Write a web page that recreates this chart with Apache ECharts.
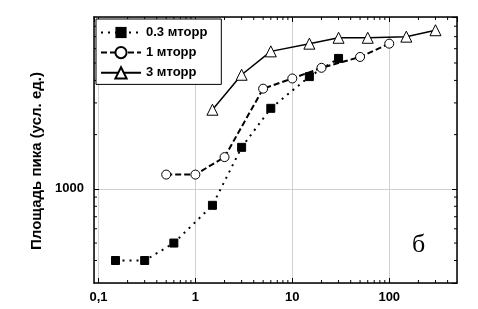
<!DOCTYPE html>
<html>
<head>
<meta charset="utf-8">
<script src="https://cdn.jsdelivr.net/npm/echarts@6/dist/echarts.min.js"></script>
<style>
  html, body { margin: 0; padding: 0; background: #fff; }
  #chart { width: 478px; height: 309px; }
</style>
</head>
<body>
<div id="chart"></div>
<script>
// pressure (arb.) on x, peak area on y
const x03 = [0.15, 0.3, 0.6, 1.5, 3, 6, 15, 30];
const y03 = [400, 400, 500, 810, 1700, 2800, 4200, 5300];
const x1 = [0.5, 1, 2, 5, 10, 20, 50, 100];
const y1 = [1200, 1200, 1500, 3600, 4100, 4700, 5400, 6400];
const x3 = [1.5, 3, 6, 15, 30, 60, 150, 300];
const y3 = [2750, 4300, 5800, 6400, 6900, 6900, 7000, 7600];
const seriesNames = ["0.3 мторр", "1 мторр", "3 мторр"];

const xMin = 0.09, xMax = 500;
const yMin = 300, yMax = 9000;
const xMinor = [0.2, 0.3, 0.4, 0.5, 0.6, 0.7, 0.8, 0.9, 2, 3, 4, 5, 6, 7, 8, 9,
  20, 30, 40, 50, 60, 70, 80, 90, 200, 300, 400];
const yMinor = [400, 500, 600, 700, 800, 900, 2000, 3000, 4000, 5000, 6000, 7000, 8000];

const chart = echarts.init(document.getElementById("chart"));

const labelFont = {
  color: "#000",
  fontFamily: "Liberation Sans",
  fontWeight: "bold",
  fontSize: 13
};

function pairs(xs, ys) {
  return xs.map((x, i) => [x, ys[i]]);
}

// small ticks between decades, placed through the axes' own scale
function minorTickItem(params, api) {
  const len = 3;
  const style = { stroke: "#000", lineWidth: 1 };
  if (params.seriesName === "xminor") {
    const v = api.value(0);
    const b = api.coord([v, yMin]);
    const t = api.coord([v, yMax]);
    return {
      type: "group",
      children: [
        { type: "line", shape: { x1: b[0], y1: b[1], x2: b[0], y2: b[1] - len }, style: style },
        { type: "line", shape: { x1: t[0], y1: t[1], x2: t[0], y2: t[1] + len }, style: style }
      ]
    };
  }
  const v = api.value(1);
  const l = api.coord([xMin, v]);
  const r = api.coord([xMax, v]);
  return {
    type: "group",
    children: [
      { type: "line", shape: { x1: l[0], y1: l[1], x2: l[0] + len, y2: l[1] }, style: style },
      { type: "line", shape: { x1: r[0], y1: r[1], x2: r[0] - len, y2: r[1] }, style: style }
    ]
  };
}

const axisLine = { lineStyle: { color: "#000", width: 1.5 } };
const axisTick = { inside: true, length: 5, lineStyle: { color: "#000", width: 1 } };

var option = {
  backgroundColor: "#ffffff",
  animation: false,
  grid: { left: 94, right: 21, top: 17, bottom: 26 },
  legend: {
    orient: "vertical",
    left: 96,
    top: 19,
    padding: [7, 14, 5, 4],
    itemGap: 7,
    itemWidth: 40,
    itemHeight: 14,
    borderColor: "#000",
    borderWidth: 1,
    backgroundColor: "#fff",
    data: seriesNames,
    textStyle: labelFont
  },
  xAxis: [
    {
      type: "log",
      logBase: 10,
      min: xMin,
      max: xMax,
      position: "bottom",
      axisLine: axisLine,
      axisTick: axisTick,
      splitLine: { show: true, lineStyle: { color: "#d0d0d0", width: 1 } },
      axisLabel: Object.assign({
        margin: 8,
        showMinLabel: false,
        showMaxLabel: false,
        formatter: v => String(v).replace(".", ",")
      }, labelFont)
    },
    {
      type: "log",
      logBase: 10,
      min: xMin,
      max: xMax,
      position: "top",
      axisLine: axisLine,
      axisTick: axisTick,
      splitLine: { show: false },
      axisLabel: { show: false }
    }
  ],
  yAxis: [
    {
      type: "log",
      logBase: 10,
      min: yMin,
      max: yMax,
      position: "left",
      axisLine: axisLine,
      axisTick: axisTick,
      splitLine: { show: true, lineStyle: { color: "#d0d0d0", width: 1 } },
      axisLabel: Object.assign({
        margin: 10,
        showMinLabel: false,
        showMaxLabel: false,
        formatter: v => String(v)
      }, labelFont)
    },
    {
      type: "log",
      logBase: 10,
      min: yMin,
      max: yMax,
      position: "right",
      axisLine: axisLine,
      axisTick: axisTick,
      splitLine: { show: false },
      axisLabel: { show: false }
    }
  ],
  graphic: [
    {
      type: "text",
      x: 37,
      y: 161,
      rotation: Math.PI / 2,
      style: {
        text: "Площадь пика (усл. ед.)",
        fill: "#000",
        font: "bold 15px 'Liberation Sans'",
        align: "center",
        verticalAlign: "middle"
      }
    },
    {
      type: "text",
      x: 412,
      y: 232,
      style: {
        text: "б",
        fill: "#000",
        font: "26px 'Liberation Serif'"
      }
    }
  ],
  series: [
    {
      name: seriesNames[0],
      type: "line",
      data: pairs(x03, y03),
      symbol: "rect",
      symbolSize: 8,
      itemStyle: { color: "#000", borderColor: "#000" },
      lineStyle: { color: "#000", width: 2, type: [2, 5] },
      z: 3
    },
    {
      name: seriesNames[1],
      type: "line",
      data: pairs(x1, y1),
      symbol: "circle",
      symbolSize: 9,
      itemStyle: { color: "#fff", borderColor: "#000", borderWidth: 1 },
      lineStyle: { color: "#000", width: 2, type: [6, 3] },
      z: 4
    },
    {
      name: seriesNames[2],
      type: "line",
      data: pairs(x3, y3),
      symbol: "triangle",
      symbolSize: 11,
      itemStyle: { color: "#fff", borderColor: "#000", borderWidth: 1 },
      lineStyle: { color: "#000", width: 1.5 },
      z: 5
    },
    {
      name: "xminor",
      type: "custom",
      silent: true,
      renderItem: minorTickItem,
      data: xMinor.map(v => [v, yMin]),
      clip: false
    },
    {
      name: "yminor",
      type: "custom",
      silent: true,
      renderItem: minorTickItem,
      data: yMinor.map(v => [xMin, v]),
      clip: false
    }
  ]
};

chart.setOption(option);
</script>
</body>
</html>
